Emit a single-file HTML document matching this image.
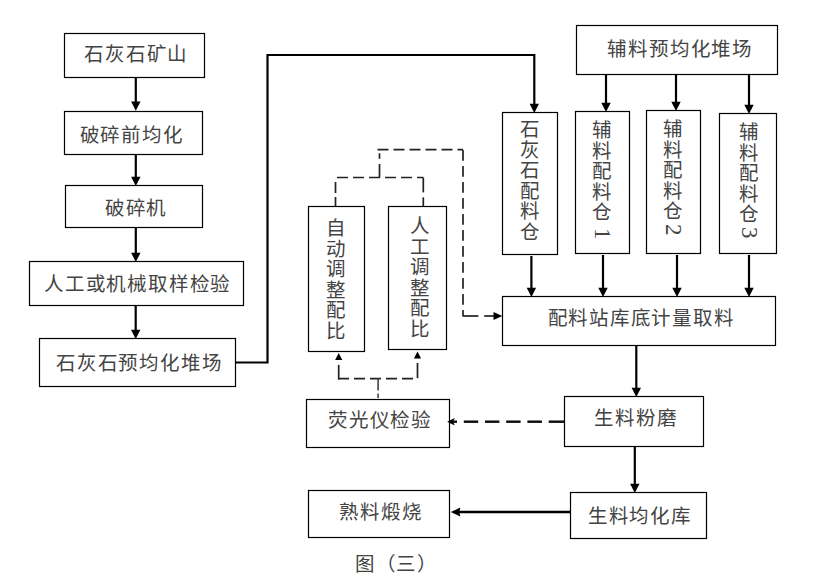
<!DOCTYPE html>
<html lang="zh-CN"><head><meta charset="utf-8">
<style>
html,body{margin:0;padding:0;background:#fff;}
body{width:825px;height:581px;position:relative;overflow:hidden;font-family:"Liberation Serif",serif;color:#444;}
svg{position:absolute;left:0;top:0;}
.bx{fill:none;stroke:#000;stroke-width:1.2;}
.th{stroke:#000;stroke-width:2.2;}
.hd{fill:#000;}
.d16{stroke:#222;stroke-width:1.7;stroke-dasharray:11 5;}
.d16v{stroke:#222;stroke-width:1.7;stroke-dasharray:10.7 5.3;}
.sol2{stroke:#222;stroke-width:1.7;}
.sol25{stroke:#111;stroke-width:2.5;}
.thin{stroke:#444;stroke-width:1.6;}
.h,.v,.cap,.dg{position:absolute;line-height:1;white-space:nowrap;font-size:19.5px;letter-spacing:0.8px;}
.v{writing-mode:vertical-rl;letter-spacing:0.6px;}
.dg{font-size:23px;letter-spacing:0;transform:rotate(90deg);transform-origin:0 0;}
.cap{font-size:19.5px;letter-spacing:0.5px;}
</style></head><body>
<svg width="825" height="581" viewBox="0 0 825 581">
<rect x="64.5" y="33.5" width="140" height="44" class="bx"/>
<rect x="64.5" y="111.5" width="138" height="43" class="bx"/>
<rect x="65.5" y="185.5" width="137" height="42" class="bx"/>
<rect x="29.5" y="261.5" width="214" height="44" class="bx"/>
<rect x="39.5" y="338.5" width="196" height="48" class="bx"/>
<rect x="308.5" y="206.5" width="56" height="145" class="bx"/>
<rect x="388.5" y="206.5" width="58" height="143" class="bx"/>
<rect x="306.5" y="399.5" width="143" height="48" class="bx"/>
<rect x="308.5" y="490.5" width="141" height="47" class="bx"/>
<rect x="576.5" y="25.5" width="201" height="49" class="bx"/>
<rect x="502.5" y="112.5" width="55" height="142" class="bx"/>
<rect x="575.5" y="111.5" width="54" height="142" class="bx"/>
<rect x="646.5" y="110.5" width="54" height="143" class="bx"/>
<rect x="719.5" y="113.5" width="57" height="140" class="bx"/>
<rect x="502.5" y="296.5" width="273" height="49" class="bx"/>
<rect x="564.5" y="396.5" width="139" height="50" class="bx"/>
<rect x="570.5" y="492.5" width="136" height="46" class="bx"/>
<line x1="135.8" y1="78" x2="135.8" y2="102.6" class="th"/><polygon points="131.10000000000002,101.6 140.5,101.6 135.8,110.8" class="hd"/>
<line x1="135.8" y1="155" x2="135.8" y2="177.8" class="th"/><polygon points="131.10000000000002,176.8 140.5,176.8 135.8,186.0" class="hd"/>
<line x1="135.8" y1="228" x2="135.8" y2="253.8" class="th"/><polygon points="131.10000000000002,252.8 140.5,252.8 135.8,262.0" class="hd"/>
<line x1="135.7" y1="306" x2="135.7" y2="330.8" class="th"/><polygon points="131.0,329.8 140.39999999999998,329.8 135.7,339.0" class="hd"/>
<polyline points="236,362.5 267.5,362.5 267.5,55 534.3,55 534.3,100" class="th" fill="none"/>
<line x1="534.3" y1="100" x2="534.3" y2="104.8" class="th"/><polygon points="529.5999999999999,103.8 539.0,103.8 534.3,113.0" class="hd"/>
<line x1="606" y1="75" x2="606" y2="103.8" class="th"/><polygon points="601.3,102.8 610.7,102.8 606,112.0" class="hd"/>
<line x1="676" y1="75" x2="676" y2="102.8" class="th"/><polygon points="671.3,101.8 680.7,101.8 676,111.0" class="hd"/>
<line x1="749" y1="75" x2="749" y2="105.8" class="th"/><polygon points="744.3,104.8 753.7,104.8 749,114.0" class="hd"/>
<line x1="531.4" y1="256" x2="531.4" y2="288.8" class="th"/><polygon points="526.6999999999999,287.8 536.1,287.8 531.4,297.0" class="hd"/>
<line x1="603" y1="255" x2="603" y2="288.8" class="th"/><polygon points="598.3,287.8 607.7,287.8 603,297.0" class="hd"/>
<line x1="677" y1="255" x2="677" y2="288.8" class="th"/><polygon points="672.3,287.8 681.7,287.8 677,297.0" class="hd"/>
<line x1="749" y1="255" x2="749" y2="288.8" class="th"/><polygon points="744.3,287.8 753.7,287.8 749,297.0" class="hd"/>
<line x1="636.3" y1="346" x2="636.3" y2="388.8" class="th"/><polygon points="631.5999999999999,387.8 641.0,387.8 636.3,397.0" class="hd"/>
<line x1="634.8" y1="447" x2="634.8" y2="484.8" class="th"/><polygon points="630.0999999999999,483.8 639.5,483.8 634.8,493.0" class="hd"/>
<line x1="570" y1="512" x2="454.8" y2="512" class="th" style="stroke-width:2.4"/><polygon points="460.3,507.6 459.3,512 460.3,516.4 450.8,512" class="hd"/>
<line x1="377.5" y1="149.7" x2="463" y2="149.7" class="d16"/>
<line x1="379.5" y1="153.3" x2="379.5" y2="158.8" class="sol2"/>
<line x1="379.5" y1="164" x2="379.5" y2="177.5" class="sol2"/>
<line x1="337" y1="177.5" x2="423.3" y2="177.5" class="d16"/>
<line x1="335.5" y1="182" x2="335.5" y2="193" class="sol2"/>
<line x1="335.5" y1="197" x2="335.5" y2="206" class="sol2"/>
<line x1="423.3" y1="177.5" x2="423.3" y2="192.4" class="sol2"/>
<line x1="423.3" y1="197.3" x2="423.3" y2="206" class="sol2"/>
<line x1="463" y1="150" x2="463" y2="316" class="d16v"/>
<line x1="462.6" y1="316" x2="478.4" y2="316" class="sol2"/>
<line x1="484.2" y1="316" x2="495" y2="316" class="sol2"/>
<polygon points="493.5,312 493.5,320 502.3,316" class="hd"/>
<line x1="338" y1="378.7" x2="417.5" y2="378.7" class="d16"/>
<line x1="338.7" y1="364.9" x2="338.7" y2="379.5" class="sol2"/>
<polygon points="335.1,360 342.3,360 338.7,353.1" class="hd"/>
<line x1="417.5" y1="363" x2="417.5" y2="378.2" class="sol2"/>
<polygon points="413.9,358.4 421.1,358.4 417.5,351.5" class="hd"/>
<line x1="378.1" y1="378.6" x2="378.1" y2="390.5" class="thin"/>
<line x1="378.1" y1="393.5" x2="378.1" y2="398" class="thin"/>
<line x1="463.8" y1="421.7" x2="478.2" y2="421.7" class="sol25"/>
<line x1="485" y1="421.7" x2="499.4" y2="421.7" class="sol25"/>
<line x1="506.2" y1="421.7" x2="520.6" y2="421.7" class="sol25"/>
<line x1="527.4" y1="421.7" x2="541.9" y2="421.7" class="sol25"/>
<line x1="548.7" y1="421.7" x2="564.8" y2="421.7" class="sol25"/>
<line x1="451" y1="421.7" x2="457" y2="421.7" class="sol25"/>
<polygon points="447.2,421.7 454.8,418 453,421.7 454.8,425.4" class="hd"/>
</svg>
<div class="h" style="left:84.20px;top:45.20px">石灰石矿山</div>
<div class="h" style="left:79.70px;top:125.90px">破碎前均化</div>
<div class="h" style="left:104.80px;top:199.00px">破碎机</div>
<div class="h" style="left:44.00px;top:275.30px">人工或机械取样检验</div>
<div class="h" style="left:56.10px;top:354.20px">石灰石预均化堆场</div>
<div class="v" style="left:324.40px;top:218.10px">自动调整配比</div>
<div class="v" style="left:408.40px;top:216.10px">人工调整配比</div>
<div class="h" style="left:328.10px;top:411.00px">荧光仪检验</div>
<div class="h" style="left:339.40px;top:502.60px">熟料煅烧</div>
<div class="h" style="left:607.40px;top:39.60px">辅料预均化堆场</div>
<div class="v" style="left:518.00px;top:119.30px">石灰石配料仓</div>
<div class="v" style="left:589.70px;top:120.30px">辅料配料仓</div>
<div class="v" style="left:661.20px;top:119.20px">辅料配料仓</div>
<div class="v" style="left:737.20px;top:122.10px">辅料配料仓</div>
<div class="h" style="left:547.50px;top:309.20px">配料站库底计量取料</div>
<div class="h" style="left:594.40px;top:408.60px">生料粉磨</div>
<div class="h" style="left:587.90px;top:507.40px">生料均化库</div>
<div class="dg" style="left:613.70px;top:228.20px">1</div>
<div class="dg" style="left:684.50px;top:224.40px">2</div>
<div class="dg" style="left:760.80px;top:227.20px">3</div>
<div class="cap" style="left:355.10px;top:555.40px">图（三）</div>
</body></html>
